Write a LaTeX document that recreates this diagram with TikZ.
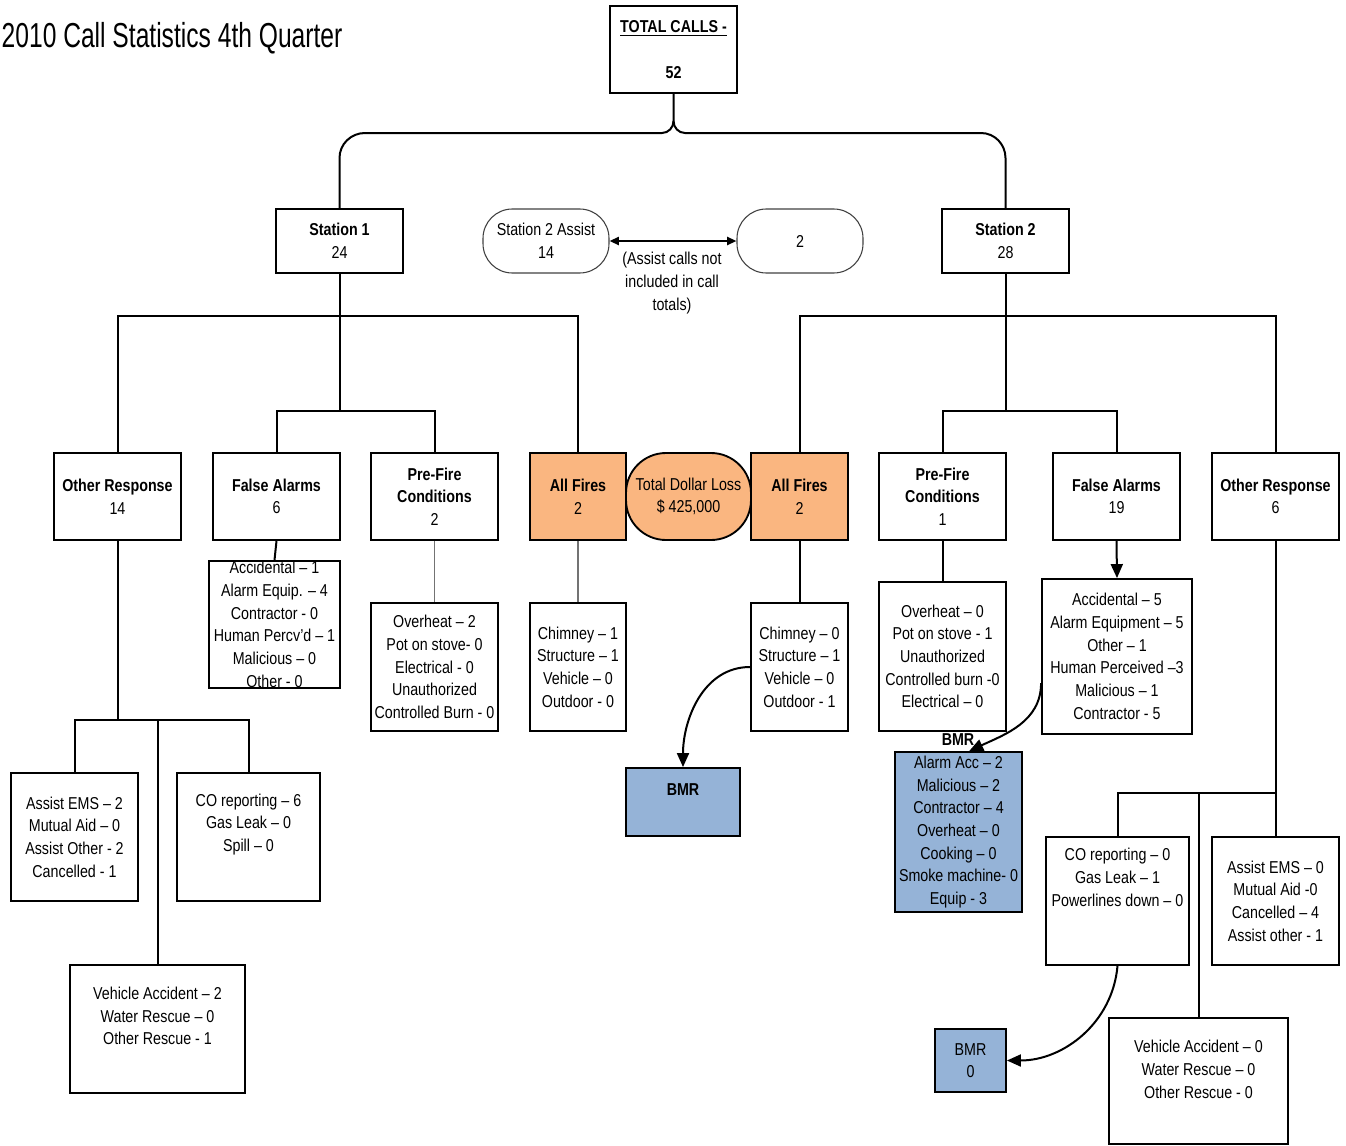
\documentclass[tikz,border=0pt]{standalone}
\usepackage{fontspec}
\setmainfont{Liberation Sans}[FakeStretch=0.83]
\newfontfamily\titlefont{Liberation Sans}[FakeStretch=0.71]
\usetikzlibrary{arrows.meta}
\definecolor{fireorange}{RGB}{250,182,128}
\definecolor{bmrblue}{RGB}{149,179,215}
\begin{document}
\begin{tikzpicture}[x=0.75pt,y=-0.75pt,font=\fontsize{12.9}{17}\selectfont,
  bx/.style 2 args={draw,line width=1.4pt,minimum width=#1*0.75pt,minimum height=#2*0.75pt,inner sep=0pt,align=center},
  pill/.style={rounded corners=22pt,line width=0.8pt,draw=black!75},
  fire/.style={fill=fireorange},
  bmr/.style={fill=bmrblue},
  txt/.style={align=center,inner sep=0pt},
  conn/.style={line width=1.5pt},
  greyline/.style={line width=0.8pt,draw=black!55},
  arr/.style={-{Triangle[length=10.5pt,width=9pt]}},
  darr/.style={{Triangle[length=7pt,width=6pt]}-{Triangle[length=7pt,width=6pt]}}]
\useasboundingbox (0,0) rectangle (1346,1146);
\node[anchor=base west,font=\titlefont\fontsize{26}{30}\selectfont] (title) at (-3,47) {2010 Call Statistics 4th Quarter};

% top
\node[bx={127}{87}] (total) at (673.5,49.5) {\textbf{\underline{TOTAL CALLS -}}\\[17pt]\textbf{52}};
\node[bx={127}{64}] (st1) at (339.5,241) {\textbf{Station 1}\\24};
\node[bx={126}{64},pill] (assist) at (546,241) {Station 2 Assist\\14};
\node[bx={126}{64},pill] (assisttwo) at (800,241) {2};
\node[bx={127}{64}] (st2) at (1005.5,241) {\textbf{Station 2}\\28};
\node[txt] (note) at (672,283) {(Assist calls not\\included in call\\totals)};

% second row
\node[bx={127}{87}] (orL) at (117.5,496.5) {\textbf{Other Response}\\14};
\node[bx={127}{87}] (faL) at (276.5,496.5) {\textbf{False Alarms}\\6};
\node[bx={127}{87}] (pfL) at (434.5,496.5) {\textbf{Pre-Fire}\\\textbf{Conditions}\\2};
\node[bx={96}{87},fire] (afL) at (578,496.5) {\textbf{All Fires}\\2};
\node[bx={125}{87},fire,rounded corners=30pt] (loss) at (688.5,496.5) {Total Dollar Loss\\\$ 425,000};
\node[bx={97}{87},fire] (afR) at (799.5,496.5) {\textbf{All Fires}\\2};
\node[bx={127}{87}] (pfR) at (942.5,496.5) {\textbf{Pre-Fire}\\\textbf{Conditions}\\1};
\node[bx={127}{87}] (faR) at (1116.5,496.5) {\textbf{False Alarms}\\19};
\node[bx={127}{87}] (orR) at (1275.5,496.5) {\textbf{Other Response}\\6};

% details, station 1
\node[bx={131}{127}] (faLd) at (274.5,624.5) {};
\node[txt] (faLd-t) at (faLd) {Accidental – 1\\Alarm Equip. – 4\\Contractor - 0\\Human Percv'd – 1\\Malicious – 0\\Other - 0};
\node[bx={127}{128}] (pfLd) at (434.5,667) {};
\node[txt] (pfLd-t) at (pfLd) {Overheat – 2\\Pot on stove- 0\\Electrical - 0\\Unauthorized\\Controlled Burn - 0};
\node[bx={96}{128}] (afLd) at (578,667) {};
\node[txt] (afLd-t) at (afLd) {Chimney – 1\\Structure – 1\\Vehicle – 0\\Outdoor - 0};
\node[bx={127}{128}] (aeL) at (74.5,837) {};
\node[txt] (aeL-t) at (aeL) {Assist EMS – 2\\Mutual Aid – 0\\Assist Other - 2\\Cancelled - 1};
\node[bx={143}{128}] (coL) at (248.5,837) {};
\node[txt] (coL-t) at (248.5,824.5) {CO reporting – 6\\Gas Leak – 0\\Spill – 0};
\node[bx={175}{128}] (vhL) at (157.5,1029) {};
\node[txt] (vhL-t) at (157.5,1016) {Vehicle Accident – 2\\Water Rescue – 0\\Other Rescue - 1};

% details, station 2
\node[bx={97}{128}] (afRd) at (799.5,667) {};
\node[txt] (afRd-t) at (afRd) {Chimney – 0\\Structure – 1\\Vehicle – 0\\Outdoor - 1};
\node[bx={114}{68},bmr] (bmrM) at (683,802) {};
\node[txt] (bmrM-t) at (683,790) {\textbf{BMR}};
\node[bx={127}{149}] (pfRd) at (942.5,656.5) {};
\node[txt] (pfRd-t) at (pfRd) {Overheat – 0\\Pot on stove - 1\\Unauthorized\\Controlled burn -0\\Electrical – 0};
\node[bx={150}{155}] (faRd) at (1117,656.5) {};
\node[txt] (faRd-t) at (faRd) {Accidental – 5\\Alarm Equipment – 5\\Other – 1\\Human Perceived –3\\Malicious – 1\\Contractor - 5};
\node[bx={127}{160},bmr] (bmrR) at (958.5,832) {};
\node[txt] (bmrR-t) at (bmrR) {Alarm Acc – 2\\Malicious – 2\\Contractor – 4\\Overheat – 0\\Cooking – 0\\Smoke machine- 0\\Equip - 3};
\node[txt] (bmrR-l) at (958,740) {\textbf{BMR}};
\node[bx={143}{128}] (coR) at (1117.5,901) {};
\node[txt] (coR-t) at (1117.5,877.5) {CO reporting – 0\\Gas Leak – 1\\Powerlines down – 0};
\node[bx={127}{128}] (aeR) at (1275.5,901) {};
\node[txt] (aeR-t) at (aeR) {Assist EMS – 0\\Mutual Aid -0\\Cancelled – 4\\Assist other - 1};
\node[bx={179}{126}] (vhR) at (1198.5,1081) {};
\node[txt] (vhR-t) at (1198.5,1069.5) {Vehicle Accident – 0\\Water Rescue – 0\\Other Rescue - 0};
\node[bx={71}{63},bmr] (bmr0) at (970.5,1060.5) {BMR\\0};

% connectors
\draw[conn] (total.south) -- (673.5,121) to[out=-90,in=0] (662,133) -- (365,133) to[out=180,in=90] (st1.north |- 0,158) -- (st1.north);
\draw[conn] (673.5,121) to[out=-90,in=180] (685,133) -- (981,133) to[out=0,in=90] (st2.north |- 0,158) -- (st2.north);
\draw[conn,darr] (assist) -- (assisttwo);

\draw[conn] (st1.south) -- (st1.south |- 0,411);
\draw[conn] (orL.north) |- (afL.north |- 0,316) -- (afL.north);
\draw[conn] (faL.north) |- (pfL.north |- 0,411) -- (pfL.north);
\draw[conn] (st2.south) -- (st2.south |- 0,411);
\draw[conn] (afR.north) |- (orR.north |- 0,316) -- (orR.north);
\draw[conn] (pfR.north) |- (faR.north |- 0,411) -- (faR.north);

\draw[conn] (faL.south) -- (faLd.north);
\draw[greyline] (pfL.south) -- (pfLd.north);
\draw[greyline] (afL.south) -- (afLd.north);
\draw[conn] (afR.south) -- (afRd.north);
\draw[conn] (pfR.south) -- (pfRd.north);
\draw[conn,arr] (faR.south) -- (faRd.north);
\draw[conn,arr] (afRd.west) to[out=180,in=90] (bmrM.north);
\draw[conn,arr] ([yshift=-20pt]faRd.west) to[out=-90,in=25] ([xshift=8pt]bmrR.north);

\draw[conn] (orL.south) -- (orL.south |- 0,720);
\draw[conn] (aeL.north) |- (coL.north |- 0,720) -- (coL.north);
\draw[conn] (vhL.north) -- (vhL.north |- 0,720);
\draw[conn] (orR.south) -- (aeR.north);
\draw[conn] (coR.north) |- (aeR.north |- 0,793);
\draw[conn] (vhR.north) -- (vhR.north |- 0,793);
\draw[conn,arr] (coR.south) to[out=-95,in=0] (bmr0.east);
\end{tikzpicture}
\end{document}
